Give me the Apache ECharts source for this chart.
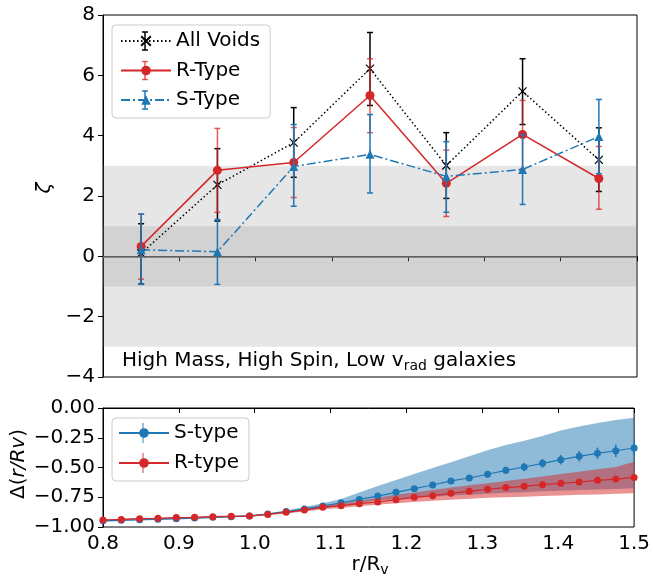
<!DOCTYPE html>
<html>
<head>
<meta charset="utf-8">
<script src="https://cdn.jsdelivr.net/npm/echarts@6/dist/echarts.min.js"></script>
<style>
  html, body { margin: 0; padding: 0; background: #fff; }
  #chart { width: 653px; height: 577px; }
</style>
</head>
<body>
<div id="chart"></div>
<script>
// top panel: zeta per radial bin
const topX = [0.85, 0.95, 1.05, 1.15, 1.25, 1.35, 1.45];
const allVoids = [0.10, 2.37, 3.77, 6.22, 3.01, 5.47, 3.20];
const allVoidsLo = [-0.92, 1.17, 2.62, 5.00, 1.92, 4.37, 2.15];
const allVoidsHi = [1.08, 3.57, 4.93, 7.42, 4.10, 6.55, 4.26];
const rType = [0.33, 2.85, 3.11, 5.33, 2.42, 4.04, 2.58];
const rTypeLo = [-0.76, 1.46, 1.95, 4.10, 1.32, 2.90, 1.56];
const rTypeHi = [1.40, 4.24, 4.27, 6.55, 3.52, 5.17, 3.64];
const sType = [0.22, 0.15, 2.98, 3.38, 2.65, 2.88, 3.97];
const sTypeLo = [-0.93, -0.93, 1.66, 2.10, 1.46, 1.72, 2.74];
const sTypeHi = [1.40, 1.22, 4.37, 4.70, 3.80, 4.04, 5.20];

// bottom panel: delta(r/Rv) profiles
const bx = [0.8000, 0.8241, 0.8483, 0.8724, 0.8966, 0.9207, 0.9448, 0.9690, 0.9931, 1.0172,
            1.0414, 1.0655, 1.0897, 1.1138, 1.1379, 1.1621, 1.1862, 1.2103, 1.2345, 1.2586,
            1.2828, 1.3069, 1.3310, 1.3552, 1.3793, 1.4034, 1.4276, 1.4517, 1.4759, 1.5000];
const sLine = [-0.948, -0.944, -0.939, -0.935, -0.930, -0.925, -0.919, -0.913, -0.907, -0.891,
               -0.870, -0.848, -0.824, -0.796, -0.768, -0.740, -0.709, -0.678, -0.647, -0.613,
               -0.588, -0.557, -0.524, -0.496, -0.465, -0.434, -0.406, -0.381, -0.359, -0.336];
const sErr = [0.004, 0.004, 0.004, 0.004, 0.004, 0.004, 0.004, 0.004, 0.004, 0.004,
              0.004, 0.004, 0.005, 0.006, 0.008, 0.010, 0.012, 0.015, 0.018, 0.022,
              0.025, 0.028, 0.031, 0.034, 0.037, 0.040, 0.044, 0.048, 0.052, 0.056];
const sBandLo = [-0.954, -0.950, -0.945, -0.941, -0.936, -0.931, -0.925, -0.919, -0.913, -0.898,
                 -0.882, -0.865, -0.845, -0.825, -0.800, -0.775, -0.765, -0.755, -0.745, -0.735,
                 -0.728, -0.720, -0.713, -0.707, -0.700, -0.695, -0.690, -0.685, -0.680, -0.675];
const sBandHi = [-0.942, -0.938, -0.933, -0.929, -0.924, -0.919, -0.913, -0.907, -0.901, -0.885,
                 -0.862, -0.832, -0.800, -0.765, -0.710, -0.655, -0.605, -0.555, -0.505, -0.455,
                 -0.405, -0.355, -0.310, -0.275, -0.235, -0.190, -0.155, -0.125, -0.100, -0.082];
const rLine = [-0.941, -0.936, -0.930, -0.927, -0.921, -0.919, -0.913, -0.910, -0.908, -0.894,
               -0.877, -0.857, -0.833, -0.821, -0.804, -0.790, -0.770, -0.751, -0.737, -0.717,
               -0.700, -0.683, -0.669, -0.658, -0.644, -0.633, -0.622, -0.608, -0.597, -0.583];
const rErr = [0.003, 0.003, 0.003, 0.003, 0.003, 0.003, 0.003, 0.003, 0.003, 0.003,
              0.003, 0.004, 0.004, 0.004, 0.005, 0.005, 0.005, 0.006, 0.006, 0.006,
              0.007, 0.007, 0.007, 0.008, 0.008, 0.008, 0.009, 0.009, 0.010, 0.010];
const rBandLo = [-0.946, -0.941, -0.935, -0.932, -0.926, -0.924, -0.918, -0.915, -0.913, -0.900,
                 -0.886, -0.869, -0.850, -0.840, -0.826, -0.812, -0.800, -0.790, -0.780, -0.770,
                 -0.762, -0.755, -0.750, -0.745, -0.740, -0.735, -0.730, -0.726, -0.721, -0.717];
const rBandHi = [-0.936, -0.931, -0.925, -0.922, -0.916, -0.914, -0.908, -0.905, -0.903, -0.887,
                 -0.868, -0.845, -0.818, -0.800, -0.780, -0.755, -0.730, -0.710, -0.690, -0.668,
                 -0.650, -0.632, -0.613, -0.595, -0.575, -0.555, -0.535, -0.515, -0.495, -0.451];

const BLUE = '#1f77b4', RED = '#d62728', FONT = 'DejaVu Sans';
const minus = v => String(v).replace('-', '\u2212');

var chart = echarts.init(document.getElementById('chart'));

function errorBars(color, cap, width, opacity) {
  return function (params, api) {
    var x = api.value(0);
    var p1 = api.coord([x, api.value(1)]);
    var p2 = api.coord([x, api.value(2)]);
    var st = { stroke: color, lineWidth: width, opacity: opacity };
    var kids = [{ type: 'line', shape: { x1: p1[0], y1: p1[1], x2: p2[0], y2: p2[1] }, style: st }];
    if (cap) {
      kids.push({ type: 'line', shape: { x1: p1[0] - cap, y1: p1[1], x2: p1[0] + cap, y2: p1[1] }, style: st });
      kids.push({ type: 'line', shape: { x1: p2[0] - cap, y1: p2[1], x2: p2[0] + cap, y2: p2[1] }, style: st });
    }
    return { type: 'group', children: kids };
  };
}

function band(lo, hi, fill) {
  return function (params, api) {
    if (params.dataIndex !== 0) return null;
    var pts = [];
    for (var i = 0; i < bx.length; i++) pts.push(api.coord([bx[i], hi[i]]));
    for (var j = bx.length - 1; j >= 0; j--) pts.push(api.coord([bx[j], lo[j]]));
    return { type: 'polygon', shape: { points: pts }, style: { fill: fill } };
  };
}

// small error-bar glyphs drawn over the legend icons
function legendBar(cx, cy, color, half, cap, opacity) {
  var st = { stroke: color, lineWidth: 1.5, opacity: opacity };
  var els = [{ type: 'line', z: 100, silent: true, shape: { x1: cx, y1: cy - half, x2: cx, y2: cy + half }, style: st }];
  if (cap) {
    els.push({ type: 'line', z: 100, silent: true, shape: { x1: cx - cap, y1: cy - half, x2: cx + cap, y2: cy - half }, style: st });
    els.push({ type: 'line', z: 100, silent: true, shape: { x1: cx - cap, y1: cy + half, x2: cx + cap, y2: cy + half }, style: st });
  }
  return els;
}

const zip3 = (x, a, b) => x.map((v, i) => [v, a[i], b[i]]);
const zip2 = (x, a) => x.map((v, i) => [v, a[i]]);

const tickLabel = { fontFamily: FONT, fontSize: 20, color: '#000' };
const axisCommon = {
  axisLine: { lineStyle: { color: '#000', width: 1 } },
  axisTick: { inside: false, length: 5, lineStyle: { color: '#000' } },
  splitLine: { show: false }
};

option = {
  animation: false,
  backgroundColor: '#fff',
  textStyle: { fontFamily: FONT },
  grid: [
    { left: 103, right: 16, top: 15, height: 362, show: true, borderColor: '#000', borderWidth: 1, backgroundColor: 'transparent' },
    { left: 103, right: 16, top: 408, height: 119, show: true, borderColor: '#000', borderWidth: 1, backgroundColor: 'transparent' }
  ],
  xAxis: [
    Object.assign({ type: 'value', gridIndex: 0, min: 0.8, max: 1.5, interval: 0.1,
      axisLabel: { show: false } }, axisCommon),
    Object.assign({ type: 'value', gridIndex: 1, min: 0.8, max: 1.5, interval: 0.1,
      axisLabel: Object.assign({ margin: 7, formatter: v => v.toFixed(1) }, tickLabel) }, axisCommon)
  ],
  yAxis: [
    Object.assign({ type: 'value', gridIndex: 0, min: -4, max: 8, interval: 2,
      axisLabel: Object.assign({ margin: 8, formatter: v => minus(v) }, tickLabel) }, axisCommon),
    Object.assign({ type: 'value', gridIndex: 1, min: -1, max: 0, interval: 0.25,
      axisLabel: Object.assign({ margin: 8, formatter: v => minus(v.toFixed(2)) }, tickLabel) }, axisCommon)
  ],
  legend: [
    {
      data: ['All Voids', 'R-Type', 'S-Type'],
      orient: 'vertical', left: 112, top: 25,
      itemWidth: 50, itemHeight: 12, itemGap: 9.5,
      padding: [6, 10, 8, 8],
      backgroundColor: 'rgba(255,255,255,0.8)', borderColor: '#cccccc', borderWidth: 1, borderRadius: 4,
      textStyle: { fontFamily: FONT, fontSize: 20, color: '#000' },
      z: 20
    },
    {
      data: ['S-type', 'R-type'],
      orient: 'vertical', left: 112, top: 418,
      itemWidth: 50, itemHeight: 12, itemGap: 10,
      padding: [5, 10, 8, 6],
      backgroundColor: 'rgba(255,255,255,0.8)', borderColor: '#cccccc', borderWidth: 1, borderRadius: 4,
      textStyle: { fontFamily: FONT, fontSize: 20, color: '#000' },
      z: 20
    }
  ],
  graphic: {
    z: 100,
    elements: [
      { type: 'text', x: 45, y: 188, rotation: Math.PI / 2,
        style: { text: 'ζ', font: 'italic 20px "DejaVu Sans"', fill: '#000', align: 'center', verticalAlign: 'middle' } },
      { type: 'text', x: 19, y: 464, rotation: Math.PI / 2,
        style: { text: '{n|Δ(}{i|r/Rv}{n|)}', align: 'center', verticalAlign: 'middle',
          rich: { n: { fontFamily: FONT, fontSize: 20, color: '#000' },
                  i: { fontFamily: FONT, fontSize: 20, fontStyle: 'italic', color: '#000' } } } },
      { type: 'text', x: 370, y: 565,
        style: { text: '{n|r/R}{s|v}', align: 'center', verticalAlign: 'middle',
          rich: { n: { fontFamily: FONT, fontSize: 20, color: '#000' },
                  s: { fontFamily: FONT, fontSize: 14, color: '#000', padding: [10, 0, 0, 0] } } } },
      { type: 'text', x: 122, y: 361, z: 10,
        style: { text: '{n|High Mass, High Spin, Low v}{s|rad}{n| galaxies}', align: 'left', verticalAlign: 'middle',
          rich: { n: { fontFamily: FONT, fontSize: 20, color: '#000' },
                  s: { fontFamily: FONT, fontSize: 14, color: '#000', padding: [10, 0, 0, 0] } } } }
    ].concat(
      legendBar(145, 41, '#000', 9, 3, 1),
      legendBar(145, 70.5, RED, 9, 3, 0.75),
      legendBar(145, 100, BLUE, 9, 3, 1),
      legendBar(143, 433, BLUE, 10, 0, 0.6),
      legendBar(143, 463, RED, 10, 0, 0.6)
    )
  },
  series: [
    {
      type: 'line', xAxisIndex: 0, yAxisIndex: 0, data: [], silent: true, z: 1,
      markArea: {
        silent: true,
        itemStyle: { color: 'rgba(128,128,128,0.2)' },
        data: [[{ yAxis: -3 }, { yAxis: 3 }], [{ yAxis: -1 }, { yAxis: 1 }]]
      },
      markLine: {
        silent: true, symbol: 'none', label: { show: false },
        lineStyle: { color: '#707070', width: 1.5, type: 'solid' },
        data: [{ yAxis: 0 }]
      }
    },
    {
      type: 'custom', xAxisIndex: 0, yAxisIndex: 0, z: 2,
      data: zip3(topX, allVoidsLo, allVoidsHi), encode: { x: 0, y: [1, 2] },
      renderItem: errorBars('#000', 3, 1.5, 1)
    },
    {
      name: 'All Voids', type: 'line', xAxisIndex: 0, yAxisIndex: 0, z: 3,
      data: zip2(topX, allVoids),
      symbol: 'path://M0,0L10,10M10,0L0,10', symbolSize: 8,
      itemStyle: { color: '#000', borderColor: '#000', borderWidth: 1.2 },
      lineStyle: { color: '#000', width: 1.5, type: [1.5, 2.5] }
    },
    {
      type: 'custom', xAxisIndex: 0, yAxisIndex: 0, z: 4,
      data: zip3(topX, rTypeLo, rTypeHi), encode: { x: 0, y: [1, 2] },
      renderItem: errorBars(RED, 3, 1.5, 0.75)
    },
    {
      name: 'R-Type', type: 'line', xAxisIndex: 0, yAxisIndex: 0, z: 5,
      data: zip2(topX, rType),
      symbol: 'circle', symbolSize: 9,
      itemStyle: { color: RED },
      lineStyle: { color: RED, width: 1.5 }
    },
    {
      type: 'custom', xAxisIndex: 0, yAxisIndex: 0, z: 6,
      data: zip3(topX, sTypeLo, sTypeHi), encode: { x: 0, y: [1, 2] },
      renderItem: errorBars(BLUE, 3, 1.5, 1)
    },
    {
      name: 'S-Type', type: 'line', xAxisIndex: 0, yAxisIndex: 0, z: 7,
      data: zip2(topX, sType),
      symbol: 'triangle', symbolSize: 9,
      itemStyle: { color: BLUE },
      lineStyle: { color: BLUE, width: 1.5, type: [9, 3, 2, 3] }
    },
    // bottom panel
    {
      type: 'custom', xAxisIndex: 1, yAxisIndex: 1, z: 2,
      data: zip3(bx, sBandLo, sBandHi), encode: { x: 0, y: [1, 2] },
      renderItem: band(sBandLo, sBandHi, 'rgba(31,119,180,0.5)')
    },
    {
      type: 'custom', xAxisIndex: 1, yAxisIndex: 1, z: 3,
      data: zip3(bx, rBandLo, rBandHi), encode: { x: 0, y: [1, 2] },
      renderItem: band(rBandLo, rBandHi, 'rgba(214,39,40,0.5)')
    },
    {
      type: 'custom', xAxisIndex: 1, yAxisIndex: 1, z: 4,
      data: bx.map((x, i) => [x, sLine[i] - sErr[i], sLine[i] + sErr[i]]), encode: { x: 0, y: [1, 2] },
      renderItem: errorBars(BLUE, 0, 1.5, 1)
    },
    {
      name: 'S-type', type: 'line', xAxisIndex: 1, yAxisIndex: 1, z: 5,
      data: zip2(bx, sLine),
      symbol: 'circle', symbolSize: 7,
      itemStyle: { color: BLUE },
      lineStyle: { color: BLUE, width: 1.2 }
    },
    {
      type: 'custom', xAxisIndex: 1, yAxisIndex: 1, z: 6,
      data: bx.map((x, i) => [x, rLine[i] - rErr[i], rLine[i] + rErr[i]]), encode: { x: 0, y: [1, 2] },
      renderItem: errorBars(RED, 0, 1.5, 1)
    },
    {
      name: 'R-type', type: 'line', xAxisIndex: 1, yAxisIndex: 1, z: 7,
      data: zip2(bx, rLine),
      symbol: 'circle', symbolSize: 7,
      itemStyle: { color: RED },
      lineStyle: { color: RED, width: 1.2 }
    }
  ]
};

chart.setOption(option);
</script>
</body>
</html>
